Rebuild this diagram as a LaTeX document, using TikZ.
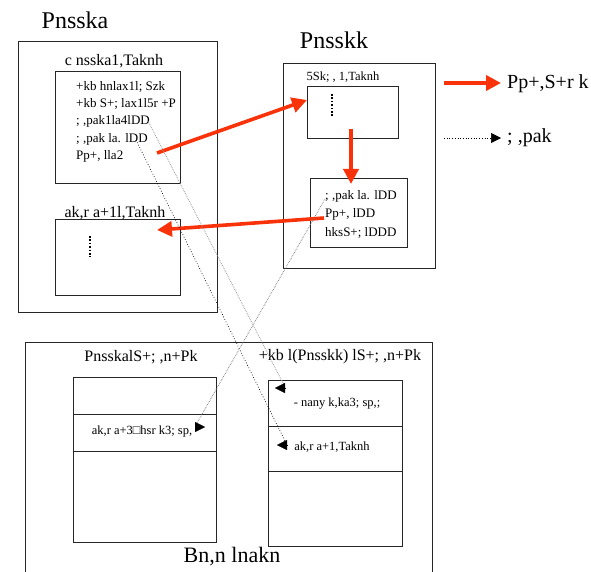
\documentclass[tikz,border=0pt]{standalone}
\usepackage{fontspec}
\setmainfont{Liberation Serif}
\usetikzlibrary{arrows.meta}
\definecolor{redarrow}{RGB}{250,50,10}
\tikzset{
  x=1pt, y=-1pt,
  box/.style={draw=black!85, line width=0.9pt},
  txt/.style={inner sep=0pt, font=\fontsize{#1}{#1}\selectfont},
  ltxt/.style={inner sep=0pt, anchor=west, font=\fontsize{#1}{#1}\selectfont},
  redarr/.style={draw=redarrow, line width=3.6pt, -{Triangle[length=15pt,width=15pt]}},
  blkdot/.style={draw=black, dotted, line width=0.7pt},
  graydot/.style={draw=black!55, densely dotted, line width=0.7pt},
  litedot/.style={draw=black!40, densely dotted, line width=0.8pt},
  tiponly/.style={draw=black, line width=0.2pt, -{Triangle[length=10pt,width=10pt]}},
  vdots/.style={line width=2.2pt, dash pattern=on 1.6pt off 1.8pt},
}
\begin{document}
\begin{tikzpicture}
\useasboundingbox (0,0) rectangle (591,572);

% ---------- left component ----------
\node[txt=24] (titleA) at (75,20) {Pnsska};
\draw[box] (18,41) rectangle (217,312);
\node[txt=16] (lblA1) at (114,61) {c nsska1,Taknh};
\draw[box] (55,71) rectangle (180,183);
\node[ltxt=13] (a1) at (76,86.5) {+kb hnlax1l; Szk};
\node[ltxt=13] (a2) at (76,104) {+kb S+; lax1l5r +P};
\node[ltxt=13] (a3) at (76,121.5) {; ,pak1la4lDD};
\node[ltxt=13] (a4) at (76,139) {; ,pak la. lDD};
\node[ltxt=13] (a5) at (76,156.5) {Pp+, lla2};
\node[txt=16] (lblA2) at (115,213) {ak,r a+1l,Taknh};
\draw[box] (55,219) rectangle (180,295);
\draw[vdots] (90,236) -- (90,257);

% ---------- right component ----------
\node[txt=24] (titleB) at (334,40) {Pnsskk};
\draw[box] (283,63) rectangle (435,268);
\node[txt=12.5] (lblB1) at (343,77) {5Sk; , 1,Taknh};
\draw[box] (307,86) rectangle (398,138);
\coordinate (boxAin) at (307,100);
\draw[vdots] (332,94) -- (332,117);
\draw[box] (310,178) rectangle (407,247);
\node[ltxt=13] (b1) at (325,196) {; ,pak la. lDD};
\node[ltxt=13] (b2) at (325,214.5) {Pp+, lDD};
\node[ltxt=13] (b3) at (325,233) {hksS+; lDDD};

% ---------- legend ----------
\coordinate (lr1) at (444,83);
\coordinate (lr2) at (501,83);
\node[ltxt=20] (legR) at (507,84) {Pp+,S+r k};
\coordinate (ld1) at (444,138);
\coordinate (ld2) at (501,138);
\node[ltxt=20] (legD) at (507,138) {; ,pak};
\draw[redarr] (lr1) -- (lr2);
\draw[draw=black, dotted, line width=0.7pt, -{Triangle[length=10pt,width=10pt]}] (ld1) -- (ld2);

% ---------- bottom: memory ----------
\draw[box] (25,572) -- (25,342) -- (432,342) -- (432,572);
\node[txt=16] (lblM1) at (141,357) {PnsskalS+; ,n+Pk};
\node[txt=16] (lblM2) at (340,357) {+kb l(Pnsskk) lS+; ,n+Pk};
\draw[box] (73,377) rectangle (216,542);
\draw[box] (73,414) -- (216,414);
\draw[box] (73,451) -- (216,451);
\node[txt=12.5] (m1) at (142,431) {ak,r a+3□hsr k3; sp,};
\draw[box] (268,380) rectangle (402,546);
\draw[box] (268,426) -- (402,426);
\draw[box] (268,471) -- (402,471);
\node[txt=12.5] (m2) at (337,404) {- nany k,ka3; sp,;};
\node[txt=12.5] (m3) at (332,447) {ak,r a+1,Taknh};
\node[txt=22] (memT) at (232,557) {Bn,n lnakn};

% ---------- red flow arrows ----------
\coordinate (fa) at (157,153);
\draw[redarr] (fa) -- (boxAin);
\coordinate (fb1) at (351,129);
\coordinate (fb2) at (351,184);
\draw[redarr] (fb1) -- (fb2);
\coordinate (fc1) at (324,218);
\coordinate (fc2) at (157,230);
\draw[redarr] (fc1) -- (fc2);

% ---------- dotted reference arrows ----------
\coordinate (p1s) at (148,121);
\coordinate (p1k) at (284,385);
\coordinate (p1b) at (285,388);
\coordinate (p1e) at (275,388);
\draw[litedot] (p1s) -- (p1k);
\draw[tiponly] (p1b) -- (p1e);
\coordinate (p2s) at (136,140);
\coordinate (p2k) at (285,441);
\coordinate (p2b) at (287,445);
\coordinate (p2e) at (277,445);
\draw[blkdot] (p2s) -- (p2k);
\draw[tiponly] (p2b) -- (p2e);
\coordinate (p3s) at (325,199);
\coordinate (p3k) at (197,423);
\coordinate (p3b) at (195,427);
\coordinate (p3e) at (205,427);
\draw[graydot] (p3s) -- (p3k);
\draw[tiponly] (p3b) -- (p3e);
\end{tikzpicture}
\end{document}
